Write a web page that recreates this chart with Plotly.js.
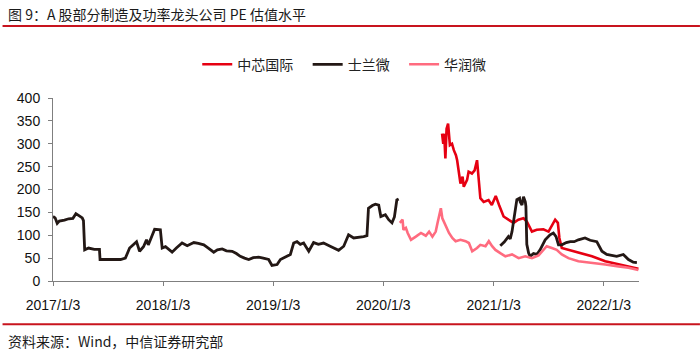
<!DOCTYPE html>
<html>
<head>
<meta charset="utf-8">
<script src="https://cdn.plot.ly/plotly-3.0.1.min.js"></script>
<style>html,body{margin:0;padding:0;background:#fff;}#chart{width:700px;height:352px;}</style>
</head>
<body>
<div id="chart"></div>
<script>
// 士兰微 (two segments, gap in between)
const slwDates = [
 '2017-01-03','2017-01-10','2017-01-17','2017-01-24','2017-02-10','2017-02-24','2017-03-10','2017-03-20','2017-03-30','2017-04-10','2017-04-14','2017-04-18','2017-05-01','2017-05-20','2017-06-06','2017-06-08','2017-07-15','2017-08-15','2017-08-31','2017-09-14','2017-09-27','2017-10-07','2017-10-17','2017-10-30','2017-11-09','2017-11-15','2017-11-25','2017-12-06','2017-12-25','2017-12-31','2018-01-11','2018-01-22','2018-02-02','2018-02-16','2018-03-07','2018-03-24','2018-04-15','2018-04-30','2018-05-18','2018-06-02','2018-06-20','2018-07-02','2018-07-18','2018-08-01','2018-08-20','2018-09-03','2018-09-16','2018-09-30','2018-10-14','2018-10-29','2018-11-16','2018-12-01','2018-12-19','2018-12-30','2019-01-16','2019-01-27','2019-02-12','2019-03-01','2019-03-12','2019-03-23','2019-04-03','2019-04-14','2019-05-01','2019-05-17','2019-06-02','2019-06-19','2019-07-11','2019-07-25','2019-08-08','2019-08-25','2019-09-10','2019-09-27','2019-10-12','2019-10-30','2019-11-10','2019-11-15','2019-11-28','2019-12-08','2019-12-19','2019-12-26','2020-01-10','2020-01-21','2020-02-01','2020-02-09','2020-02-17','2020-02-23',
 '2020-02-24',
 '2021-01-25','2021-02-07','2021-02-21','2021-02-27','2021-03-05','2021-03-10','2021-03-15','2021-03-21','2021-03-30','2021-04-01','2021-04-07','2021-04-12','2021-04-18','2021-04-20','2021-04-23','2021-04-29','2021-05-04','2021-05-15','2021-05-26','2021-06-06','2021-06-23','2021-07-09','2021-07-20','2021-07-29','2021-08-06','2021-08-17','2021-09-01','2021-09-14','2021-09-27','2021-10-11','2021-11-02','2021-11-19','2021-12-11','2021-12-28','2022-01-13','2022-01-31','2022-02-15','2022-03-09','2022-03-26','2022-04-11','2022-04-23'
];
const slwPE = [
 141,138,126,131,133,136,137,147,143,138,132,68,72,69,69,47,47,47,50,72,80,86,65,75,90,79,95,113,112,72,75,68,63,72,83,77,84,82,79,72,63,68,70,66,65,60,54,50,47,51,52,50,47,34,36,47,52,58,83,86,80,83,65,84,80,83,76,72,67,76,101,94,95,97,99,159,165,168,166,141,145,134,127,140,177,179,
 null,
 77,85,97,92,108,130,145,178,181,173,166,184,173,163,80,61,54,60,58,68,90,101,105,97,79,79,84,86,86,90,94,89,86,65,58,56,54,58,47,41,40
];
// 中芯国际
const smicDates = ['2020-07-16','2020-07-20','2020-07-23','2020-07-27','2020-07-31','2020-08-05','2020-08-11','2020-08-18','2020-08-24','2020-08-31','2020-09-04','2020-09-09','2020-09-15','2020-09-22','2020-09-26','2020-10-07','2020-10-12','2020-10-23','2020-11-01','2020-11-09','2020-11-14','2020-11-20','2020-12-01','2020-12-17','2020-12-28','2021-01-10','2021-01-21','2021-01-28','2021-02-05','2021-02-21','2021-03-10','2021-03-26','2021-04-12','2021-04-23','2021-05-10','2021-05-26','2021-06-17','2021-07-04','2021-07-20','2021-07-26','2021-08-04','2021-08-09','2021-08-17','2021-09-08','2021-10-11','2021-11-25','2022-01-08','2022-02-21','2022-03-26','2022-04-28'];
const smicPE = [322,300,322,268,333,344,297,300,286,275,264,235,213,228,206,221,239,235,242,264,221,181,173,177,166,186,166,155,141,134,127,134,137,130,108,112,113,108,127,134,127,94,72,68,61,54,43,36,32,27];
// 华润微
const crmDates = ['2020-02-27','2020-03-02','2020-03-07','2020-03-10','2020-03-18','2020-03-24','2020-04-04','2020-04-20','2020-05-07','2020-05-23','2020-06-03','2020-06-14','2020-06-25','2020-07-01','2020-07-12','2020-07-17','2020-07-28','2020-08-08','2020-08-19','2020-08-30','2020-09-15','2020-10-02','2020-10-13','2020-10-24','2020-11-09','2020-11-20','2020-12-07','2020-12-18','2020-12-29','2021-01-09','2021-01-25','2021-02-11','2021-03-05','2021-03-27','2021-04-18','2021-05-10','2021-06-01','2021-06-17','2021-06-28','2021-07-15','2021-07-31','2021-08-17','2021-09-08','2021-10-11','2021-11-25','2022-01-08','2022-02-21','2022-03-26','2022-04-28'];
const crmPE = [127,130,134,112,116,105,90,97,105,99,108,97,108,127,159,137,119,105,94,87,90,87,83,65,72,79,76,87,76,68,61,54,58,50,54,50,56,68,76,72,68,58,50,43,40,36,32,29,24];

const seriesNames = ['中芯国际', '士兰微', '华润微'];
const xTickVals = ['2017-01-03','2018-01-03','2019-01-03','2020-01-03','2021-01-03','2022-01-03'];
const xTickText = ['2017/1/3','2018/1/3','2019/1/3','2020/1/3','2021/1/3','2022/1/3'];
const yTickVals = [0,50,100,150,200,250,300,350,400];

const FONT = 'Liberation Sans, Arial, Noto Sans CJK SC, sans-serif';
const CJK = 'Noto Sans CJK SC, Liberation Sans, sans-serif';
const PAD = '\u00a0\u00a0\u00a0';

const traces = [
 {x: smicDates, y: smicPE, name: seriesNames[0] + PAD, type: 'scatter', mode: 'lines', line: {color: '#e60012', width: 2.6}},
 {x: slwDates, y: slwPE, name: seriesNames[1] + PAD, type: 'scatter', mode: 'lines', connectgaps: false, line: {color: '#231815', width: 2.8}},
 {x: crmDates, y: crmPE, name: seriesNames[2] + PAD, type: 'scatter', mode: 'lines', line: {color: '#ff6b7f', width: 2.6}}
];

const L = 52.5, R = 639, T = 97.5, B = 281.5;
const px = v => (v - L) / (R - L);
const py = v => (B - v) / (B - T);

const layout = {
 width: 700, height: 352,
 margin: {l: L, r: 700 - R, t: T, b: 352 - B, pad: 0},
 paper_bgcolor: '#fff', plot_bgcolor: '#fff',
 font: {family: FONT, size: 13, color: '#222'},
 showlegend: true,
 legend: {orientation: 'h', x: px(349), xanchor: 'center', y: py(64), yanchor: 'middle',
   font: {family: CJK, size: 14, color: '#222'}, bgcolor: 'rgba(0,0,0,0)', traceorder: 'normal'},
 xaxis: {type: 'date', range: ['2017-01-03', '2022-04-30'], tickmode: 'array', tickvals: xTickVals, ticktext: xTickText,
   showgrid: false, zeroline: false, showline: true, linecolor: '#7f7f7f', linewidth: 1,
   ticks: 'outside', ticklen: 4, tickcolor: '#7f7f7f', ticklabelstandoff: 7, tickfont: {family: FONT, size: 14, color: '#111'}},
 yaxis: {range: [0, 400], tickmode: 'array', tickvals: yTickVals, showgrid: false, zeroline: false,
   showline: true, linecolor: '#7f7f7f', linewidth: 1, ticks: 'outside', ticklen: 4, tickcolor: '#7f7f7f', ticklabelstandoff: 5,
   tickfont: {family: FONT, size: 14, color: '#111'}},
 annotations: [
  {text: '图 9：A 股部分制造及功率龙头公司 PE 估值水平', xref: 'paper', yref: 'paper', x: px(5), y: py(13), xanchor: 'left', yanchor: 'middle', showarrow: false, font: {family: CJK, size: 14, color: '#1a1a1a'}},
  {text: '资料来源：Wind，中信证券研究部', xref: 'paper', yref: 'paper', x: px(5), y: py(341.5), xanchor: 'left', yanchor: 'middle', showarrow: false, font: {family: CJK, size: 14, color: '#1a1a1a'}}
 ],
 shapes: [
  {type: 'line', xref: 'paper', yref: 'paper', x0: px(2), x1: px(700), y0: py(25), y1: py(25), line: {color: '#c8141e', width: 2}},
  {type: 'line', xref: 'paper', yref: 'paper', x0: px(2), x1: px(700), y0: py(325), y1: py(325), line: {color: '#c8141e', width: 2}}
 ]
};

Plotly.newPlot('chart', traces, layout, {displayModeBar: false, staticPlot: true});
</script>
</body>
</html>
